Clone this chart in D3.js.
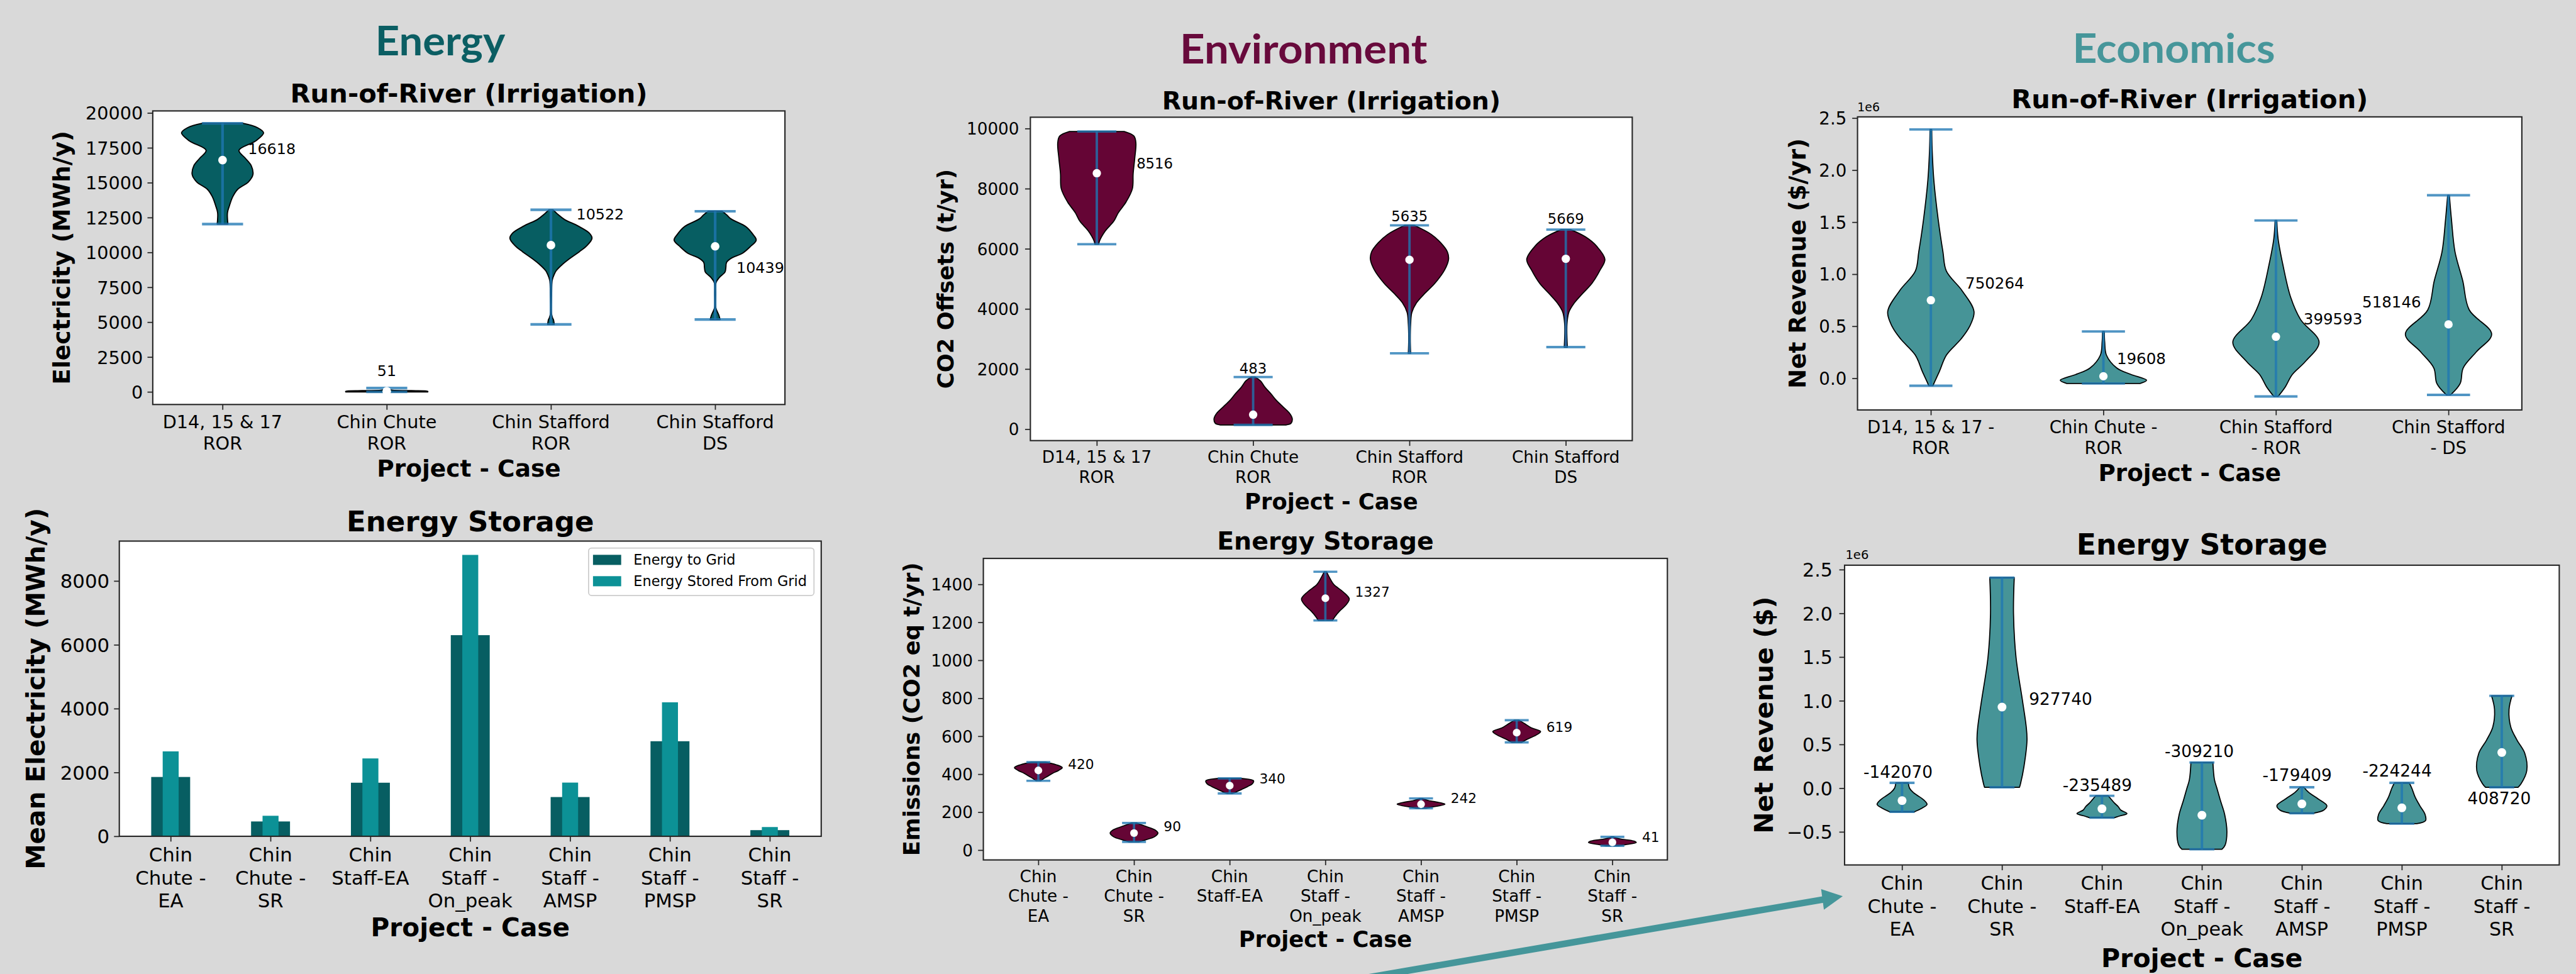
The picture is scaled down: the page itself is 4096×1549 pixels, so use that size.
<!DOCTYPE html>
<html>
<head>
<meta charset="utf-8">
<script src="https://cdn.jsdelivr.net/npm/d3@7"></script>
<style>
  html, body { margin: 0; padding: 0; background: #d9d9d9; overflow: hidden; }
</style>
</head>
<body>
<svg id="chart" width="4096" height="1549"></svg>
<script>
// ---------------- data ----------------
const rorCases = [["D14, 15 & 17", "ROR"], ["Chin Chute", "ROR"], ["Chin Stafford", "ROR"], ["Chin Stafford", "DS"]];
const rorCasesEco = [["D14, 15 & 17 -", "ROR"], ["Chin Chute -", "ROR"], ["Chin Stafford", "- ROR"], ["Chin Stafford", "- DS"]];
const storageCases = [["Chin", "Chute -", "EA"], ["Chin", "Chute -", "SR"], ["Chin", "Staff-EA"], ["Chin", "Staff -", "On_peak"],
                      ["Chin", "Staff -", "AMSP"], ["Chin", "Staff -", "PMSP"], ["Chin", "Staff -", "SR"]];

// Energy: run-of-river electricity (MWh/y)
const energyRorMedian = [16618, 51, 10522, 10439];
const energyRorMin = [12037, 0, 4841, 5189];
const energyRorMax = [19258, 280, 13057, 12952];
const energyRorDensity = [
  [[19258,0.50],[18950,0.85],[18580,1.0],[18002,0.81],[17318,0.40],[16740,0.56],[16213,0.70],[15582,0.74],[15057,0.63],[14530,0.37],[14004,0.25],[13372,0.17],[12848,0.12],[12037,0.13]],
  [[280,0.02],[150,0.08],[90,0.6],[40,1.0],[0,1.0]],
  [[13057,0.05],[12700,0.18],[12362,0.33],[11898,0.66],[11400,0.93],[11018,1.0],[10500,0.88],[10049,0.69],[9550,0.45],[9121,0.27],[8700,0.13],[8427,0.08],[8000,0.03],[7000,0.015],[5649,0.01],[5300,0.04],[5188,0.06],[4841,0.08]],
  [[12952,0.17],[12700,0.28],[12416,0.38],[11848,0.75],[11300,0.92],[10888,1.0],[10400,0.85],[9932,0.66],[9600,0.40],[9300,0.28],[8900,0.26],[8597,0.24],[8200,0.10],[7830,0.02],[7000,0.01],[6110,0.01],[5900,0.03],[5500,0.09],[5189,0.12]]
];
const energyRorLabelDx = [0.155, 0, 0.155, 0.13];
const energyRorLabelY = [17036, 1139, 12362, 8534];
const energyRorLabelAnchor = ["start", "middle", "start", "start"];
const energyRorTicks = [0, 2500, 5000, 7500, 10000, 12500, 15000, 17500, 20000];

// Environment: run-of-river CO2 offsets (t/yr)
const envRorMedian = [8516, 483, 5635, 5669];
const envRorMin = [6153, 142, 2524, 2731];
const envRorMax = [9902, 1734, 6782, 6640];
const envRorDensity = [
  [[9902,0.70],[9750,0.95],[9525,1.0],[9000,0.97],[8500,0.93],[8000,0.91],[7562,0.75],[7200,0.55],[6912,0.43],[6600,0.22],[6262,0.07],[6153,0.05]],
  [[1734,0.05],[1603,0.19],[1400,0.30],[1170,0.46],[950,0.60],[738,0.77],[550,0.92],[358,1.0],[196,0.97],[142,0.84]],
  [[6782,0.12],[6478,0.56],[6200,0.80],[5900,0.97],[5650,1.0],[5300,0.90],[4854,0.65],[4500,0.38],[4204,0.18],[3880,0.06],[3500,0.03],[3000,0.02],[2524,0.03]],
  [[6640,0.12],[6400,0.50],[6100,0.78],[5650,1.0],[5300,0.88],[4854,0.67],[4500,0.42],[4204,0.22],[3900,0.08],[3500,0.03],[2731,0.04]]
];
const envRorLabelDx = [0.254, 0, 0, 0];
const envRorLabelY = [8668, 1852, 6913, 6826];
const envRorLabelAnchor = ["start", "middle", "middle", "middle"];
const envRorTicks = [0, 2000, 4000, 6000, 8000, 10000];

// Economics: run-of-river net revenue ($/yr)
const ecoRorMedian = [750264, 19608, 399593, 518146];
const ecoRorMin = [-71500, -50000, -174000, -159000];
const ecoRorMax = [2391000, 450000, 1517000, 1759000];
const ecoRorDensity = [
  [[2391000,0.02],[2200000,0.03],[1900000,0.07],[1526000,0.17],[1216000,0.28],[1030000,0.36],[844000,0.72],[642000,1.0],[500000,0.90],[378000,0.70],[223000,0.36],[68000,0.20],[-50000,0.07],[-71500,0.05]],
  [[450000,0.02],[350000,0.03],[223000,0.07],[99000,0.31],[37000,0.64],[-19000,1.0],[-50000,0.85]],
  [[1517000,0.02],[1340000,0.05],[1093000,0.16],[780000,0.34],[565000,0.57],[347000,1.0],[161000,0.68],[37000,0.38],[-87000,0.21],[-174000,0.05]],
  [[1759000,0.02],[1520000,0.07],[1216000,0.15],[937000,0.33],[658000,0.48],[425000,1.0],[256000,0.65],[99000,0.34],[-50000,0.27],[-159000,0.05]]
];
const ecoRorLabelDx = [0.2, 0.078, 0.16, -0.5];
const ecoRorLabelY = [859000, 136000, 518000, 682000];
const ecoRorLabelAnchor = ["start", "start", "start", "start"];
const ecoRorTicks = [0, 500000, 1000000, 1500000, 2000000, 2500000];

// Energy storage: mean electricity (MWh/y)
const energyToGrid = [1859, 465, 1679, 6303, 1230, 2979, 193];
const energyStoredFromGrid = [2661, 643, 2440, 8818, 1683, 4199, 290];
const storageSeries = ["Energy to Grid", "Energy Stored From Grid"];
const storageEnergyTicks = [0, 2000, 4000, 6000, 8000];

// Energy storage: emissions (CO2 eq t/yr)
const envStorageMedian = [420, 90, 340, 1327, 242, 619, 41];
const envStorageMin = [365.4, 43.6, 298.6, 1210, 220.7, 567.6, 23];
const envStorageMax = [463.5, 143, 378, 1466.7, 272.5, 684.4, 70];
const envStorageDensity = [
  [[463.5,0.3],[450,0.75],[435,1.0],[420,0.85],[405,0.6],[390,0.4],[375,0.2],[365.4,0.1]],
  [[143,0.1],[125,0.5],[105,0.9],[90,1.0],[70,0.85],[55,0.5],[43.6,0.2]],
  [[378,0.4],[365,1.0],[350,0.95],[335,0.75],[320,0.5],[305,0.25],[298.6,0.1]],
  [[1466.7,0.05],[1430,0.2],[1400,0.35],[1360,0.75],[1323,1.0],[1290,0.85],[1260,0.6],[1230,0.4],[1210,0.3]],
  [[272.5,0.05],[262,0.3],[250,0.8],[242,1.0],[232,0.7],[225,0.35],[220.7,0.2]],
  [[684.4,0.1],[665,0.35],[645,0.6],[625,1.0],[605,0.8],[585,0.45],[567.6,0.2]],
  [[70,0.05],[60,0.3],[48,0.9],[40,1.0],[30,0.6],[23,0.25]]
];
const envStorageLabelDx = [0.31, 0.31, 0.31, 0.31, 0.31, 0.31, 0.31];
const envStorageLabelY = [428, 101, 350, 1334, 249, 622, 43.6];
const envStorageLabelAnchor = ["start", "start", "start", "start", "start", "start", "start"];
const envStorageTicks = [0, 200, 400, 600, 800, 1000, 1200, 1400];

// Energy storage: net revenue ($)
const ecoStorageMedian = [-142070, 927740, -235489, -309210, -179409, -224244, 408720];
const ecoStorageMin = [-270000, 10600, -337000, -699000, -287000, -405000, 10600];
const ecoStorageMax = [61000, 2409000, -87000, 294000, 10700, 61000, 1057000];
const ecoStorageDensity = [
  [[61000,0.25],[0,0.3],[-50000,0.45],[-84000,0.62],[-130000,0.85],[-185000,1.0],[-220000,0.85],[-250000,0.65],[-270000,0.5]],
  [[2409000,0.49],[2000000,0.46],[1500000,0.56],[1000000,0.82],[700000,0.97],[550000,1.0],[250000,0.88],[50000,0.74],[10600,0.7]],
  [[-87000,0.25],[-120000,0.35],[-170000,0.5],[-210000,0.65],[-250000,0.75],[-290000,1.0],[-315000,0.75],[-337000,0.5]],
  [[294000,0.44],[100000,0.5],[0,0.6],[-150000,0.75],[-300000,0.91],[-500000,1.0],[-650000,0.93],[-699000,0.8]],
  [[10700,0.08],[-50000,0.28],[-120000,0.64],[-200000,1.0],[-250000,0.88],[-287000,0.45]],
  [[61000,0.3],[0,0.4],[-100000,0.53],[-200000,0.72],[-300000,0.93],[-370000,0.95],[-405000,0.6]],
  [[1057000,0.41],[900000,0.29],[700000,0.36],[550000,0.61],[400000,0.92],[200000,1.0],[50000,0.77],[10600,0.65]]
];
const ecoStorageLabelDx = [-0.04, 0.27, -0.046, -0.026, -0.047, -0.047, -0.026];
const ecoStorageLabelY = [119000, 953000, -34000, 356000, 85000, 135000, -185000];
const ecoStorageLabelAnchor = ["middle", "start", "middle", "middle", "middle", "middle", "middle"];
const ecoStorageTicks = [-500000, 0, 500000, 1000000, 1500000, 2000000, 2500000];

const sectionTitles = ["Energy", "Environment", "Economics"];

// ---------------- drawing ----------------
const FONT = "'DejaVu Sans', Verdana, sans-serif";
const SPINE = "#262626";
const CAP = "#1f77b4";
const TEAL_DARK = "#075e62";
const TEAL_LIGHT = "#0c9196";
const MAROON = "#650535";
const TEAL_SOFT = "#469497";
const TICK = 12;

const svg = d3.select("#chart");
const root = svg.append("g").attr("transform", "scale(0.7)");
root.append("rect").attr("width", 5850).attr("height", 2212).attr("fill", "#d9d9d9");

const millions = v => (v / 1e6).toFixed(1).replace("-", "\u2212");

function panel(cfg) {
  const [fx0, fx1, fy0, fy1] = cfg.frame;
  const n = cfg.cases.length;
  const ext = cfg.extent;
  const pad = 0.05 * ((n - 1) + 2 * ext);
  const x = d3.scaleLinear().domain([1 - ext - pad, n + ext + pad]).range([fx0, fx1]);
  const y = d3.scaleLinear().domain(cfg.ylim).range([fy1, fy0]);
  const g = root.append("g");

  g.append("rect").attr("x", fx0).attr("y", fy0).attr("width", fx1 - fx0).attr("height", fy1 - fy0).attr("fill", "#fff");
  cfg.marks(g.append("g"), x, y);
  g.append("rect").attr("x", fx0).attr("y", fy0).attr("width", fx1 - fx0).attr("height", fy1 - fy0)
    .attr("fill", "none").attr("stroke", SPINE).attr("stroke-width", 3);

  // y axis
  const ya = g.append("g").attr("transform", `translate(${fx0},0)`)
    .call(d3.axisLeft(y).tickValues(cfg.yticks).tickFormat(cfg.yfmt).tickSize(TICK).tickPadding(cfg.tickGap - TICK));
  ya.select(".domain").remove();
  ya.attr("font-family", FONT).attr("font-size", cfg.tickFs);
  ya.selectAll(".tick line").attr("stroke", SPINE).attr("stroke-width", 2.5);
  ya.selectAll(".tick text").attr("fill", "#000").attr("dy", "0.36em");

  // x axis
  const xa = g.append("g").attr("transform", `translate(0,${fy1})`)
    .call(d3.axisBottom(x).tickValues(d3.range(1, n + 1)).tickFormat(() => "").tickSize(TICK));
  xa.select(".domain").remove();
  xa.selectAll(".tick line").attr("stroke", SPINE).attr("stroke-width", 2.5);

  cfg.cases.forEach((lines, i) => {
    const t = g.append("text").attr("font-family", FONT).attr("font-size", cfg.tickFs)
      .attr("text-anchor", "middle").attr("fill", "#000");
    lines.forEach((s, k) => t.append("tspan").attr("x", x(i + 1)).attr("y", cfg.xtick1 + k * cfg.xtickGap).text(s));
  });

  const cx = (fx0 + fx1) / 2;
  g.append("text").attr("x", cx).attr("y", cfg.titleY).attr("text-anchor", "middle")
    .attr("font-family", FONT).attr("font-weight", "bold").attr("font-size", cfg.titleFs).text(cfg.title);
  g.append("text").attr("x", cx).attr("y", cfg.xlabelY).attr("text-anchor", "middle")
    .attr("font-family", FONT).attr("font-weight", "bold").attr("font-size", cfg.labelFs).text("Project - Case");
  g.append("text")
    .attr("transform", `translate(${cfg.ylabelX + 0.26 * cfg.labelFs},${(fy0 + fy1) / 2}) rotate(-90)`)
    .attr("text-anchor", "middle").attr("font-family", FONT).attr("font-weight", "bold")
    .attr("font-size", cfg.labelFs).text(cfg.ylabel);

  if (cfg.offsetText) {
    g.append("text").attr("x", cfg.offsetText[0]).attr("y", cfg.offsetText[1])
      .attr("font-family", FONT).attr("font-size", cfg.offsetText[2]).text("1e6");
  }
  return { g, x, y };
}

function violins(spec) {
  return (g, x, y) => {
    const lw = spec.lw;
    spec.density.forEach((pts, i) => {
      const c = i + 1;
      const sorted = pts.slice().sort((a, b) => b[0] - a[0]);
      const area = d3.area()
        .curve(d3.curveCatmullRom.alpha(0.5))
        .y(d => y(d[0]))
        .x0(d => x(c - 0.25 * d[1]))
        .x1(d => x(c + 0.25 * d[1]));
      g.append("path").attr("d", area(sorted)).attr("fill", spec.fill)
        .attr("stroke", "#000").attr("stroke-width", lw * 0.45).attr("stroke-linejoin", "round");
    });
    spec.density.forEach((pts, i) => {
      const c = i + 1;
      g.append("line").attr("x1", x(c)).attr("x2", x(c)).attr("y1", y(spec.min[i])).attr("y2", y(spec.max[i]))
        .attr("stroke", CAP).attr("stroke-opacity", 0.78).attr("stroke-width", lw);
      [spec.min[i], spec.max[i]].forEach(v => {
        g.append("line").attr("x1", x(c - 0.125)).attr("x2", x(c + 0.125)).attr("y1", y(v)).attr("y2", y(v))
          .attr("stroke", CAP).attr("stroke-opacity", 0.78).attr("stroke-width", lw);
      });
      g.append("circle").attr("cx", x(c)).attr("cy", y(spec.median[i])).attr("r", spec.dotR).attr("fill", "#fff");
    });
    spec.median.forEach((m, i) => {
      g.append("text").attr("x", x(i + 1 + spec.labelDx[i])).attr("y", y(spec.labelY[i]))
        .attr("text-anchor", spec.labelAnchor[i]).attr("font-family", FONT)
        .attr("font-size", spec.valueFs).attr("fill", "#000").text(String(m));
    });
  };
}

// ---- Energy: run-of-river ----
panel({
  frame: [347, 1783, 252, 919], ylim: [-903, 20148], cases: rorCases, extent: 0.25,
  yticks: energyRorTicks, yfmt: d3.format("d"), tickFs: 41, labelFs: 53.6, titleFs: 59.5,
  title: "Run-of-River (Irrigation)", titleY: 233, tickGap: 22.5, xtick1: 973, xtickGap: 48,
  xlabelY: 1083, ylabelX: 145, ylabel: "Electricity (MWh/y)",
  marks: violins({ density: energyRorDensity, min: energyRorMin, max: energyRorMax, median: energyRorMedian,
    fill: TEAL_DARK, lw: 6, dotR: 9.8, valueFs: 34,
    labelDx: energyRorLabelDx, labelY: energyRorLabelY, labelAnchor: energyRorLabelAnchor })
});

// ---- Environment: run-of-river ----
panel({
  frame: [2340.5, 3707.7, 266.3, 1001], ylim: [-379, 10378], cases: rorCases, extent: 0.25,
  yticks: envRorTicks, yfmt: d3.format("d"), tickFs: 37.5, labelFs: 50.5, titleFs: 56.4,
  title: "Run-of-River (Irrigation)", titleY: 248, tickGap: 25.5, xtick1: 1052, xtickGap: 44.5,
  xlabelY: 1157, ylabelX: 2152, ylabel: "CO2 Offsets (t/yr)",
  marks: violins({ density: envRorDensity, min: envRorMin, max: envRorMax, median: envRorMedian,
    fill: MAROON, lw: 5.5, dotR: 9.5, valueFs: 32.5,
    labelDx: envRorLabelDx, labelY: envRorLabelY, labelAnchor: envRorLabelAnchor })
});

// ---- Economics: run-of-river ----
panel({
  frame: [4219.4, 5728.4, 265.5, 931.4], ylim: [-304000, 2512000], cases: rorCasesEco, extent: 0.25,
  yticks: ecoRorTicks, yfmt: millions, tickFs: 39.5, labelFs: 53.2, titleFs: 59.4,
  title: "Run-of-River (Irrigation)", titleY: 245.7, tickGap: 24.7, xtick1: 984, xtickGap: 47.7,
  xlabelY: 1092.8, ylabelX: 4088, ylabel: "Net Revenue ($/yr)", offsetText: [4219, 253, 27],
  marks: violins({ density: ecoRorDensity, min: ecoRorMin, max: ecoRorMax, median: ecoRorMedian,
    fill: TEAL_SOFT, lw: 5.5, dotR: 9.5, valueFs: 35,
    labelDx: ecoRorLabelDx, labelY: ecoRorLabelY, labelAnchor: ecoRorLabelAnchor })
});

// ---- Energy storage: bars ----
const barPanel = panel({
  frame: [271, 1865.4, 1229.3, 1900], ylim: [0, 9251], cases: storageCases, extent: 0.195,
  yticks: storageEnergyTicks, yfmt: d3.format("d"), tickFs: 44, labelFs: 58, titleFs: 64.4,
  title: "Energy Storage", titleY: 1207, tickGap: 22.3, xtick1: 1957.8, xtickGap: 52,
  xlabelY: 2127.7, ylabelX: 87, ylabel: "Mean Electricity (MWh/y)",
  marks: (g, x, y) => {
    energyToGrid.forEach((v, i) => {
      g.append("rect").attr("x", x(i + 1 - 0.195)).attr("width", x(i + 1 + 0.195) - x(i + 1 - 0.195))
        .attr("y", y(v)).attr("height", y(0) - y(v)).attr("fill", TEAL_DARK);
    });
    energyStoredFromGrid.forEach((v, i) => {
      g.append("rect").attr("x", x(i + 1 - 0.08)).attr("width", x(i + 1 + 0.08) - x(i + 1 - 0.08))
        .attr("y", y(v)).attr("height", y(0) - y(v)).attr("fill", TEAL_LIGHT);
    });
  }
});
// legend
{
  const lg = barPanel.g.append("g");
  lg.append("rect").attr("x", 1337).attr("y", 1245).attr("width", 512).attr("height", 108).attr("rx", 7)
    .attr("fill", "#fff").attr("fill-opacity", 0.8).attr("stroke", "#cccccc").attr("stroke-width", 2.5);
  [TEAL_DARK, TEAL_LIGHT].forEach((c, k) => {
    const cy = 1272 + k * 48.5;
    lg.append("rect").attr("x", 1347).attr("y", cy - 11.5).attr("width", 64).attr("height", 23).attr("fill", c);
    lg.append("text").attr("x", 1439).attr("y", cy + 11.5).attr("font-family", FONT).attr("font-size", 32)
      .attr("fill", "#000").text(storageSeries[k]);
  });
}

// ---- Environment: energy storage ----
panel({
  frame: [2233.7, 3787.5, 1268.7, 1953.7], ylim: [-51.5, 1536.8], cases: storageCases, extent: 0.25,
  yticks: envStorageTicks, yfmt: d3.format("d"), tickFs: 37.5, labelFs: 50.5, titleFs: 56.4,
  title: "Energy Storage", titleY: 1249.2, tickGap: 23.7, xtick1: 2004, xtickGap: 45,
  xlabelY: 2151.6, ylabelX: 2075, ylabel: "Emissions (CO2 eq t/yr)",
  marks: violins({ density: envStorageDensity, min: envStorageMin, max: envStorageMax, median: envStorageMedian,
    fill: MAROON, lw: 5.2, dotR: 8.8, valueFs: 31,
    labelDx: envStorageLabelDx, labelY: envStorageLabelY, labelAnchor: envStorageLabelAnchor })
});

// ---- Economics: energy storage ----
panel({
  frame: [4190, 5813.4, 1284.1, 1965.1], ylim: [-878000, 2551000], cases: storageCases, extent: 0.25,
  yticks: ecoStorageTicks, yfmt: millions, tickFs: 43, labelFs: 58.7, titleFs: 65.3,
  title: "Energy Storage", titleY: 1260.6, tickGap: 27.2, xtick1: 2022, xtickGap: 52,
  xlabelY: 2196.5, ylabelX: 4012, ylabel: "Net Revenue ($)", offsetText: [4192, 1270.7, 28],
  marks: violins({ density: ecoStorageDensity, min: ecoStorageMin, max: ecoStorageMax, median: ecoStorageMedian,
    fill: TEAL_SOFT, lw: 5.5, dotR: 10, valueFs: 37.7,
    labelDx: ecoStorageLabelDx, labelY: ecoStorageLabelY, labelAnchor: ecoStorageLabelAnchor })
});

// ---- section headings ----
const headingLayout = [
  { x: 1000, y: 126, w: 295, color: "#0b5e63" },
  { x: 2961, y: 144, w: 562, color: "#680a3c" },
  { x: 4938, y: 143, w: 460, color: "#46969a" }
];
sectionTitles.forEach((s, i) => {
  const h = headingLayout[i];
  root.append("text").attr("x", h.x).attr("y", h.y).attr("text-anchor", "middle")
    .attr("font-family", "Lato, 'Open Sans', sans-serif").attr("font-weight", "bold").attr("font-size", 93)
    .attr("fill", h.color).attr("textLength", h.w).attr("lengthAdjust", "spacingAndGlyphs").text(s);
});

// ---- arrow pointing to the storage revenue panel ----
root.append("line").attr("x1", 2960).attr("y1", 2246).attr("x2", 4145).attr("y2", 2043)
  .attr("stroke", "#45969a").attr("stroke-width", 15);
root.append("polygon").attr("points", "4136.7,2020 4185.8,2036 4143,2066.7").attr("fill", "#45969a");
</script>
</body>
</html>
